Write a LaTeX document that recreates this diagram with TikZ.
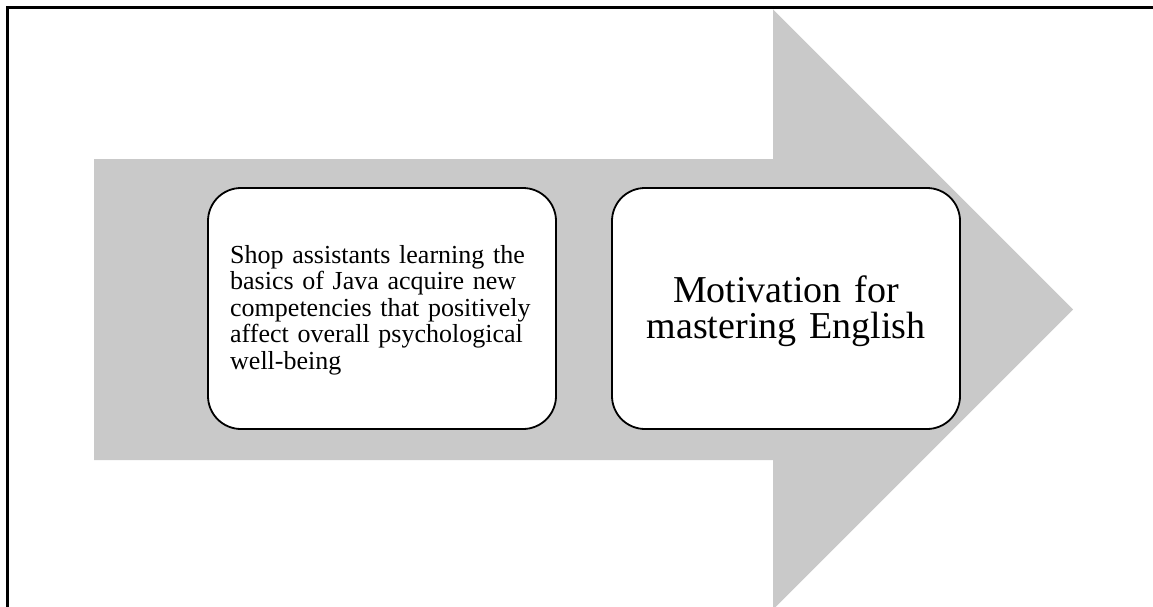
\documentclass[tikz,border=0pt]{standalone}
\usepackage{fontspec}
\setmainfont{Liberation Serif}
\definecolor{arrowgray}{RGB}{201,201,201}
\tikzset{
  stagebox/.style={draw=black, line width=1.8pt, fill=white, rounded corners=33pt,
    minimum width=348pt, minimum height=241pt, inner sep=0pt},
  stagetext/.style={inner sep=0pt},
  framerule/.style={draw=black, line width=2.2pt},
  bigarrow/.style={fill=arrowgray}
}
\begin{document}
\begin{tikzpicture}[x=1pt,y=-1pt]
\useasboundingbox (0,0) rectangle (1153,607);
\clip (0,0) rectangle (1153,607);
% big block arrow
\fill[bigarrow] (94,159) -- (773,159) -- (773,9.5) -- (1073,309.5) -- (773,609.5) -- (773,460) -- (94,460) -- cycle;
% frame
\coordinate (fb) at (7.5,607);
\coordinate (fc) at (7.5,7.5);
\coordinate (fr) at (1153,7.5);
\draw[framerule] (fb) -- (fc) -- (fr);
% stages
\node[stagebox] (s1) at (382,308.5) {};
\node[stagebox] (s2) at (786,308.5) {};
\node[stagetext, text width=304pt, align=left, anchor=base west,
      font=\fontsize{26}{26.6}\selectfont] (t1) at (230,263)
  {Shop assistants learning the\\basics of Java acquire new\\competencies that positively\\affect overall psychological\\well-being};
\node[stagetext, text width=340pt, align=center, anchor=base,
      font=\fontsize{38}{36}\selectfont] (t2) at (786,302.3)
  {Motivation for\\mastering English};
\end{tikzpicture}
\end{document}
